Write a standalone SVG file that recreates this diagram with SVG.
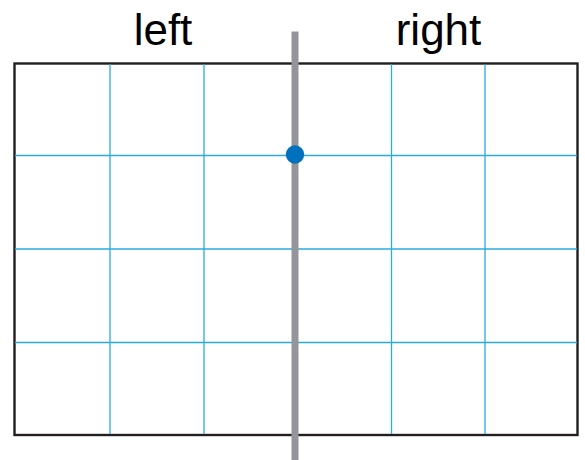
<svg xmlns="http://www.w3.org/2000/svg" width="585" height="460" viewBox="0 0 585 460">
<style>
.grid{stroke:#29abe2;stroke-width:1.3;fill:none}
.frame{stroke:#231f20;stroke-width:2.4;fill:#fff}
.lbl{font-family:"Liberation Sans",Arial,sans-serif;font-size:44px;fill:#000;text-anchor:middle}
</style>
<g id="frame">
<rect class="frame" x="14.5" y="63.5" width="563" height="371.5"/>
</g>
<g id="grid">
<line class="grid" x1="110" y1="64" x2="110" y2="434"/>
<line class="grid" x1="204" y1="64" x2="204" y2="434"/>
<line class="grid" x1="391.5" y1="64" x2="391.5" y2="434"/>
<line class="grid" x1="485" y1="64" x2="485" y2="434"/>
<line class="grid" x1="15" y1="155.5" x2="577" y2="155.5"/>
<line class="grid" x1="15" y1="249" x2="577" y2="249"/>
<line class="grid" x1="15" y1="342.5" x2="577" y2="342.5"/>
</g>
<g id="divider">
<line x1="295" y1="31.5" x2="295" y2="460" stroke="#939598" stroke-width="7"/>
</g>
<g id="point">
<circle cx="295" cy="154.5" r="9.2" fill="#0071bc"/>
</g>
<g id="labels">
<text class="lbl" x="163" y="45">left</text>
<text class="lbl" x="438.5" y="45">right</text>
</g>
</svg>
